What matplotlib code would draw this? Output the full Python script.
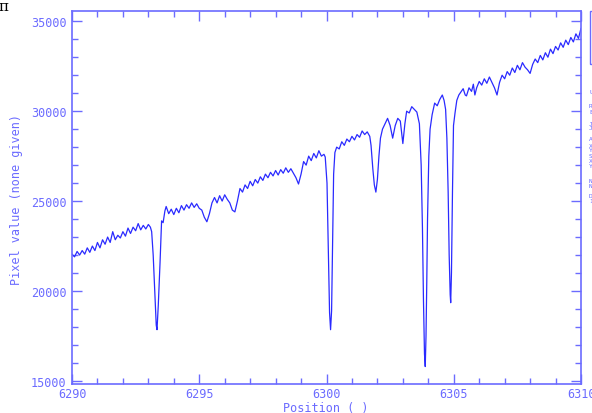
import matplotlib
matplotlib.use("Agg")
import matplotlib.pyplot as plt
from matplotlib.ticker import MultipleLocator
from matplotlib.patches import Rectangle

# spectrum (position, pixel value)
wave = [
    6290.0, 6290.1, 6290.2, 6290.3, 6290.4, 6290.5, 6290.6, 6290.7, 6290.8, 6290.9,
    6291.0, 6291.1, 6291.2, 6291.3, 6291.4, 6291.5, 6291.6, 6291.7, 6291.8, 6291.9,
    6292.0, 6292.1, 6292.2, 6292.3, 6292.4, 6292.5, 6292.6, 6292.7, 6292.8, 6292.9,
    6293.0, 6293.08, 6293.13, 6293.19, 6293.26, 6293.31, 6293.34, 6293.39, 6293.46, 6293.52,
    6293.58, 6293.65, 6293.7, 6293.8, 6293.9, 6294.0, 6294.1, 6294.2, 6294.3, 6294.4,
    6294.5, 6294.6, 6294.7, 6294.8, 6294.9, 6295.0, 6295.1, 6295.2, 6295.3, 6295.4,
    6295.5, 6295.6, 6295.7, 6295.8, 6295.9, 6296.0, 6296.1, 6296.2, 6296.3, 6296.4,
    6296.5, 6296.6, 6296.7, 6296.8, 6296.9, 6297.0, 6297.1, 6297.2, 6297.3, 6297.4,
    6297.5, 6297.6, 6297.7, 6297.8, 6297.9, 6298.0, 6298.1, 6298.2, 6298.3, 6298.4,
    6298.5, 6298.6, 6298.7, 6298.8, 6298.9, 6299.0, 6299.1, 6299.2, 6299.3, 6299.4,
    6299.5, 6299.6, 6299.7, 6299.8, 6299.9, 6299.95, 6300.02, 6300.07, 6300.12, 6300.16,
    6300.2, 6300.24, 6300.28, 6300.33, 6300.4, 6300.5, 6300.6, 6300.7, 6300.8, 6300.9,
    6301.0, 6301.1, 6301.2, 6301.3, 6301.4, 6301.5, 6301.6, 6301.7, 6301.75, 6301.82,
    6301.88, 6301.94, 6302.0, 6302.06, 6302.12, 6302.2, 6302.3, 6302.4, 6302.5, 6302.6,
    6302.7, 6302.8, 6302.9, 6303.0, 6303.08, 6303.15, 6303.25, 6303.35, 6303.45, 6303.55,
    6303.65, 6303.72, 6303.77, 6303.81, 6303.85, 6303.88, 6303.91, 6303.94, 6303.97, 6304.02,
    6304.07, 6304.15, 6304.25, 6304.35, 6304.45, 6304.55, 6304.62, 6304.68, 6304.73, 6304.78,
    6304.82, 6304.86, 6304.88, 6304.91, 6304.95, 6304.99, 6305.05, 6305.12, 6305.2, 6305.3,
    6305.37, 6305.45, 6305.5, 6305.6, 6305.7, 6305.77, 6305.83, 6305.9, 6306.0, 6306.1,
    6306.2, 6306.3, 6306.4, 6306.5, 6306.6, 6306.7, 6306.8, 6306.9, 6307.0, 6307.1,
    6307.2, 6307.3, 6307.4, 6307.5, 6307.6, 6307.7, 6307.8, 6307.9, 6308.0, 6308.1,
    6308.2, 6308.3, 6308.4, 6308.5, 6308.6, 6308.7, 6308.8, 6308.9, 6309.0, 6309.1,
    6309.2, 6309.3, 6309.4, 6309.5, 6309.6, 6309.7, 6309.8, 6309.9, 6310.0,
]
flux = [
    22050, 21900, 22200, 22000, 22250, 22050, 22400, 22150, 22500, 22250,
    22700, 22400, 22850, 22600, 23000, 22700, 23300, 22850, 23100, 22950,
    23300, 23050, 23500, 23200, 23550, 23350, 23750, 23400, 23650, 23450,
    23700, 23550, 23300, 22000, 19750, 18100, 17850, 19200, 21600, 23900,
    23800, 24450, 24700, 24300, 24550, 24250, 24600, 24350, 24750, 24500,
    24800, 24600, 24900, 24650, 24850, 24600, 24500, 24100, 23850, 24300,
    24900, 25200, 24900, 25300, 25000, 25350, 25100, 24900, 24500, 24400,
    25000, 25700, 25500, 25900, 25700, 26100, 25850, 26200, 26000, 26350,
    26150, 26500, 26300, 26600, 26400, 26700, 26450, 26750, 26550, 26850,
    26600, 26800, 26550, 26300, 25950, 26500, 27200, 27000, 27500, 27250,
    27650, 27400, 27800, 27500, 27600, 27450, 26000, 22500, 18800, 17850,
    18900, 22800, 26500, 27700, 28000, 27900, 28300, 28100, 28450, 28300,
    28600, 28400, 28700, 28550, 28900, 28700, 28850, 28600, 28100, 26800,
    25900, 25500, 26200, 27500, 28500, 29000, 29300, 29600, 29200, 28500,
    29200, 29600, 29450, 28200, 29300, 30000, 29900, 30250, 30100, 29950,
    29300, 27000, 23500, 19500, 16500, 15800, 17500, 20500, 24000, 27500,
    29000, 29800, 30450, 30300, 30650, 30900, 30600, 30100, 28500, 25500,
    22000, 19800, 19350, 21000, 25500, 29200, 29900, 30600, 30900, 31100,
    31250, 30900, 30850, 31300, 31100, 31500, 30900, 31300, 31650, 31450,
    31800, 31550, 31900, 31600, 31300, 30900, 31600, 32000, 31800, 32200,
    32000, 32400, 32150, 32550, 32300, 32700, 32450, 32300, 32100, 32600,
    32900, 32700, 33100, 32850, 33250, 33000, 33450, 33200, 33600, 33400,
    33800, 33550, 33950, 33700, 34100, 33850, 34300, 34050, 34600,
]

x_label = "Position ( )"
y_label = "Pixel value (none given)"
side_text = ["U", "R", "E", "J", "J", "A", "X", "Y", "S", "X", "Y", "N", "N", "D", "1"]
side_y = [93, 107, 113, 124, 129, 140, 146, 151, 157, 162, 167, 182, 187, 197, 202]

axis_col = "#6b6bff"
line_col = "#2a2aff"

plt.rcParams["font.family"] = ["DejaVu Sans Mono", "DejaVu Sans"]

W, H = 592, 414
fig = plt.figure(figsize=(W / 100, H / 100), dpi=100)
ax = fig.add_axes([72 / W, 1 - 385 / H, (581 - 72) / W, (385 - 12) / H])

ax.plot(wave, flux, color=line_col, lw=0.9)

ax.set_xlim(6290, 6310)
ax.set_ylim(14830, 35570)
ax.xaxis.set_major_locator(MultipleLocator(5))
ax.xaxis.set_minor_locator(MultipleLocator(1))
ax.yaxis.set_major_locator(MultipleLocator(5000))
ax.yaxis.set_minor_locator(MultipleLocator(1000))

ax.tick_params(which="both", direction="in", top=True, right=True,
               color=axis_col, labelcolor=axis_col, labelsize=8.5, width=1)
ax.tick_params(which="major", length=7)
ax.tick_params(which="minor", length=4.5)
ax.tick_params(axis="x", which="major", pad=2.5)
ax.tick_params(axis="y", which="major", pad=4)
for s in ax.spines.values():
    s.set_color(axis_col)
    s.set_linewidth(1.2)

# x label sits right at the bottom edge, y label a bit in from the left
fig.text(326 / W, 1 - 409 / H, x_label, color=axis_col, fontsize=8.5,
         ha="center", va="center")
fig.text(17 / W, 1 - 200 / H, y_label, color=axis_col, fontsize=8.5,
         ha="center", va="center", rotation=90)

# legend box and side notes cut off at the right edge
fig.patches.append(Rectangle((590 / W, 1 - 65 / H), 20 / W, 53 / H,
                             transform=fig.transFigure, fill=False,
                             edgecolor=axis_col, lw=1))
for t, yy in zip(side_text, side_y):
    fig.text(589 / W, 1 - yy / H, t, color=axis_col, fontsize=4.5, va="center")

fig.text(-2 / W, 1.0, "\u043f", color="black", fontsize=11, va="top",
         family="DejaVu Serif")

fig.savefig("out.png", dpi=100)
